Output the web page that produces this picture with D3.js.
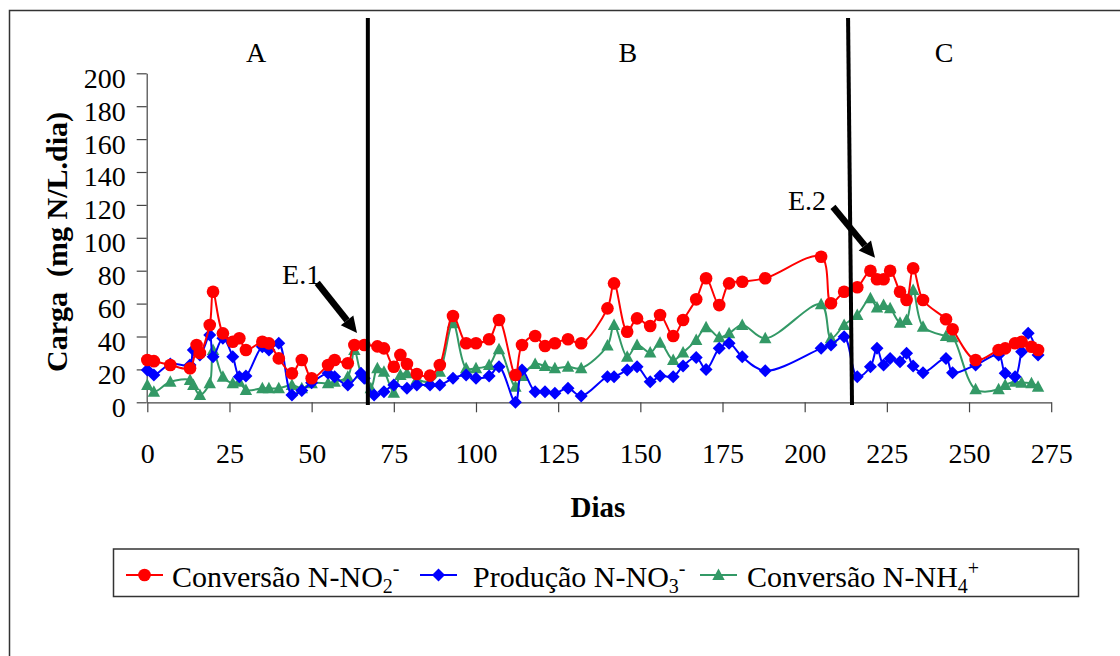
<!DOCTYPE html>
<html>
<head>
<meta charset="utf-8">
<script src="https://cdn.jsdelivr.net/npm/d3@7"></script>
<style>
  html, body { margin: 0; padding: 0; background: #fff; }
  svg { display: block; font-family: "Liberation Serif", "Times New Roman", serif; }
</style>
</head>
<body>
<svg id="chart" width="1120" height="656"></svg>
<script>
// Operation days (shared sampling days of the three series)
const dias = [0, 2, 7, 13, 14, 15, 16, 19, 20, 23, 26, 28, 30, 35, 37, 40, 44, 47, 50, 55, 57, 61, 63, 65, 66, 68, 69, 70, 72, 75, 77, 79, 82, 86, 89, 93, 97, 100, 104, 107, 112, 114, 118, 121, 124, 128, 132, 140, 142, 146, 149, 153, 156, 160, 163, 167, 170, 174, 177, 181, 188, 205, 208, 212, 216, 220, 222, 224, 226, 229, 231, 233, 236, 243, 245, 252, 259, 261, 264, 266, 268, 269, 271];

// Conversão N-NO2- (mg N/L.dia)
const conversaoNO2 = [25.7, 25, 22.7, 20.7, null, 34.8, 30, 47, 67.2, 41.9, 36.8, 38.9, 31.8, 36.8, 35.8, 26.7, 17.6, 25.7, 14.6, 22.7, 25.7, 23.7, 34.8, null, 34.8, null, null, 34, 32.8, 21.6, 28.8, 23.3, 17.2, 16.2, 22.7, 52.5, 35.9, 35.9, 38.3, 50, 16.6, 34.8, 40.3, 34.2, 35.9, 38.3, 35.9, 57.1, 72.3, 42.9, 51, 46.4, 53.1, 40.3, 50, 62.6, 75.4, 59.1, 72.3, 73.3, 75.4, 88.5, 60.2, 67.2, 69.9, 80, 74.8, 74.8, 80, 67.2, 62.2, 81.5, 62.2, 50.5, 44.4, 25.7, 31.8, 32.8, 35.9, 36.8, null, 33.8, 31.8];

// Produção N-NO3- (mg N/L.dia)
const producaoNO3 = [19.6, 16.6, 23.3, 22.7, 31.8, null, 28.8, 40.9, 27.7, 38.9, 27.7, 15.6, 16, 33.8, 31.8, 35.9, 4.4, 7.1, 11.9, 17.6, 15.6, 10.5, null, 17.6, 14.6, null, 4.4, null, 6.4, 10.5, null, 8.5, 10.5, 10.5, 10.5, 14.6, 16.6, 14.6, 16, 21.6, 0, 19.6, 6.4, 6.4, 5.5, 8.5, 3.8, 15.6, 15.6, 19.6, 21.6, 12.5, 16, 15.6, 22, 27.3, 20, 32.8, 35.9, 27.7, 19.2, 32.8, 34.8, 39.9, 15.6, 21.6, 32.8, 22.7, 26.7, 24.7, 29.8, 22, 18, 26.7, 18, 22.7, 28.8, 17.6, 15.6, 30.8, 41.9, null, 28.8];

// Conversão N-NH4+ (mg N/L.dia)
const conversaoNH4 = [10.5, 6.4, 12.5, 13.6, 10.5, null, 4.4, 11.6, 31.8, 15.6, 11.6, 12.5, 7.5, 8.5, 8.5, 8.5, 10.5, 8.5, 11.6, 11.6, 12.5, 15.6, 31.8, 17.6, null, 8.5, null, 20.7, 18.6, 5.8, 16.6, 17.6, 14, 12.5, 18.6, 48, 20.7, 20.7, 22.7, 32.2, 9.5, 16, 23.3, 22, 20.7, 21.6, 20.7, 34.5, 47, 27.7, 34.8, 30.2, 36.2, 25.7, 30.2, 37.9, 45.6, 39.5, 41.9, 47, 38.9, 59.6, 38.9, 47, 53.1, 63.2, 57.7, 59.1, 57.1, 48.4, 50, 68.3, 46, 40.3, 39.5, 7.9, 7.9, 10.5, 12.5, 11.9, null, 11.6, 9.5];

// Axis ticks
const xTicks = [0, 25, 50, 75, 100, 125, 150, 175, 200, 225, 250, 275];
const yTicks = [0, 20, 40, 60, 80, 100, 120, 140, 160, 180, 200];

// Phase labels and boundaries (day, value units)
const fases = ["A", "B", "C"];
const faseDias = [33.1, 146.2, 242.4];
const limites = [[67.1, 67.1], [213.2, 214.4]];
const eventos = ["E.1", "E.2"];
const eventoTexto = [[46.8, 72], [200.7, 116.9]];
const eventoSeta = [[[51.7, 72.6], [63.8, 42.2]], [[208.6, 118.8], [221.4, 87.8]]];

const svg = d3.select("#chart");

const x = d3.scaleLinear().domain([0, 275]).range([147.3, 1051.2]);
const y = d3.scaleLinear().domain([0, 200]).range([402.3, 73.3]);

// Outer frame
svg.append("rect")
  .attr("x", 9.5).attr("y", 10.5).attr("width", 1130).attr("height", 660)
  .attr("fill", "none").attr("stroke", "#333").attr("stroke-width", 1.5);

// Axes
const axisColor = "#444";
const xAxis = svg.append("g")
  .attr("transform", `translate(0,${y(0)})`)
  .call(d3.axisBottom(x).tickValues(xTicks).tickSize(10).tickSizeOuter(0).tickFormat(d3.format("d")));
xAxis.select(".domain").attr("stroke", axisColor).attr("stroke-width", 1.2);
xAxis.selectAll(".tick line").attr("stroke", axisColor).attr("stroke-width", 1.2);
xAxis.selectAll(".tick text")
  .attr("fill", "#000").attr("font-size", 28).attr("font-family", "Liberation Serif")
  .attr("y", 0).attr("dy", 0)
  .attr("transform", "translate(0,61)");

const yAxis = svg.append("g")
  .attr("transform", `translate(${x(0) - 0.6},0)`)
  .call(d3.axisLeft(y).tickValues(yTicks).tickSize(10).tickSizeOuter(0).tickFormat(d3.format("d")));
yAxis.select(".domain").attr("stroke", axisColor).attr("stroke-width", 1.2);
yAxis.selectAll(".tick line").attr("stroke", axisColor).attr("stroke-width", 1.2);
yAxis.selectAll(".tick text")
  .attr("fill", "#000").attr("font-size", 28).attr("font-family", "Liberation Serif")
  .attr("x", -21).attr("dy", "0.32em")
  .attr("transform", "translate(0,5)");

// Axis titles
svg.append("text")
  .attr("x", 598).attr("y", 517)
  .attr("text-anchor", "middle")
  .attr("font-size", 29).attr("font-weight", "bold")
  .text("Dias");

svg.append("text")
  .attr("transform", "translate(67,242) rotate(-90)")
  .attr("text-anchor", "middle")
  .attr("font-size", 30).attr("font-weight", "bold")
  .attr("xml:space", "preserve")
  .style("white-space", "pre")
  .text("Carga  (mg N/L.dia)");

// Series
const series = [
  { name: "no2", values: conversaoNO2, color: "#ff0000", marker: "circle" },
  { name: "no3", values: producaoNO3, color: "#0000ff", marker: "diamond" },
  { name: "nh4", values: conversaoNH4, color: "#339966", marker: "triangle" }
];

const line = d3.line()
  .x(d => x(d.dia))
  .y(d => y(d.v))
  .curve(d3.curveCatmullRom.alpha(0.5));

function markerPath(kind) {
  if (kind === "circle") return d3.symbol(d3.symbolCircle, 125)();
  if (kind === "diamond") return "M0,-6.5L6.5,0L0,6.5L-6.5,0Z";
  return "M0,-6.5L6.2,5L-6.2,5Z";
}

// draw order: green, blue, red (red on top)
[series[2], series[1], series[0]].forEach(s => {
  const pts = dias.map((d, i) => ({ dia: d, v: s.values[i] })).filter(p => p.v !== null);
  svg.append("path")
    .attr("d", line(pts))
    .attr("fill", "none")
    .attr("stroke", s.color)
    .attr("stroke-width", 2);
  svg.append("g").selectAll("path")
    .data(pts)
    .join("path")
    .attr("transform", p => `translate(${x(p.dia)},${y(p.v)})`)
    .attr("d", markerPath(s.marker))
    .attr("fill", s.color);
});

// Phase boundaries
limites.forEach(l => {
  svg.append("line")
    .attr("x1", x(l[0])).attr("y1", y(233.6))
    .attr("x2", x(l[1])).attr("y2", y(-1.6))
    .attr("stroke", "#000").attr("stroke-width", 4);
});

// Phase labels
fases.forEach((f, i) => {
  svg.append("text")
    .attr("x", x(faseDias[i])).attr("y", y(206.9))
    .attr("text-anchor", "middle")
    .attr("font-size", 28)
    .text(f);
});

// Event annotations with arrows
eventos.forEach((e, i) => {
  svg.append("text")
    .attr("x", x(eventoTexto[i][0])).attr("y", y(eventoTexto[i][1]))
    .attr("text-anchor", "middle")
    .attr("font-size", 28)
    .text(e);
  const [p0, p1] = eventoSeta[i];
  const x0 = x(p0[0]), y0 = y(p0[1]), x1 = x(p1[0]), y1 = y(p1[1]);
  const ang = Math.atan2(y1 - y0, x1 - x0);
  const headLen = 16, headW = 8;
  const bx = x1 - headLen * Math.cos(ang), by = y1 - headLen * Math.sin(ang);
  svg.append("line")
    .attr("x1", x0).attr("y1", y0).attr("x2", bx).attr("y2", by)
    .attr("stroke", "#000").attr("stroke-width", 6.5);
  const nx = -Math.sin(ang), ny = Math.cos(ang);
  svg.append("path")
    .attr("d", `M${x1},${y1}L${bx + nx * headW},${by + ny * headW}L${bx - nx * headW},${by - ny * headW}Z`)
    .attr("fill", "#000");
});

// Legend
const legend = svg.append("g");
legend.append("rect")
  .attr("x", 113.5).attr("y", 549).attr("width", 965).attr("height", 47.5)
  .attr("fill", "#fff").attr("stroke", "#333").attr("stroke-width", 1.5);

const legendItems = [
  { s: series[0], x0: 126, tx: 172, base: "Conversão N-NO", sub: "2", sup: "-" },
  { s: series[1], x0: 420, tx: 473, base: "Produção N-NO", sub: "3", sup: "-" },
  { s: series[2], x0: 700, tx: 747, base: "Conversão N-NH", sub: "4", sup: "+" }
];
legendItems.forEach(it => {
  legend.append("line")
    .attr("x1", it.x0).attr("y1", 575).attr("x2", it.x0 + 37).attr("y2", 575)
    .attr("stroke", it.s.color).attr("stroke-width", 2);
  legend.append("path")
    .attr("transform", `translate(${it.x0 + 18.5},575)`)
    .attr("d", markerPath(it.s.marker))
    .attr("fill", it.s.color);
  const t = legend.append("text")
    .attr("x", it.tx).attr("y", 587)
    .attr("font-size", 30);
  t.append("tspan").text(it.base);
  t.append("tspan").attr("font-size", 20).attr("dy", 6).text(it.sub);
  t.append("tspan").attr("font-size", 20).attr("dy", -18).text(it.sup);
});
</script>
</body>
</html>
